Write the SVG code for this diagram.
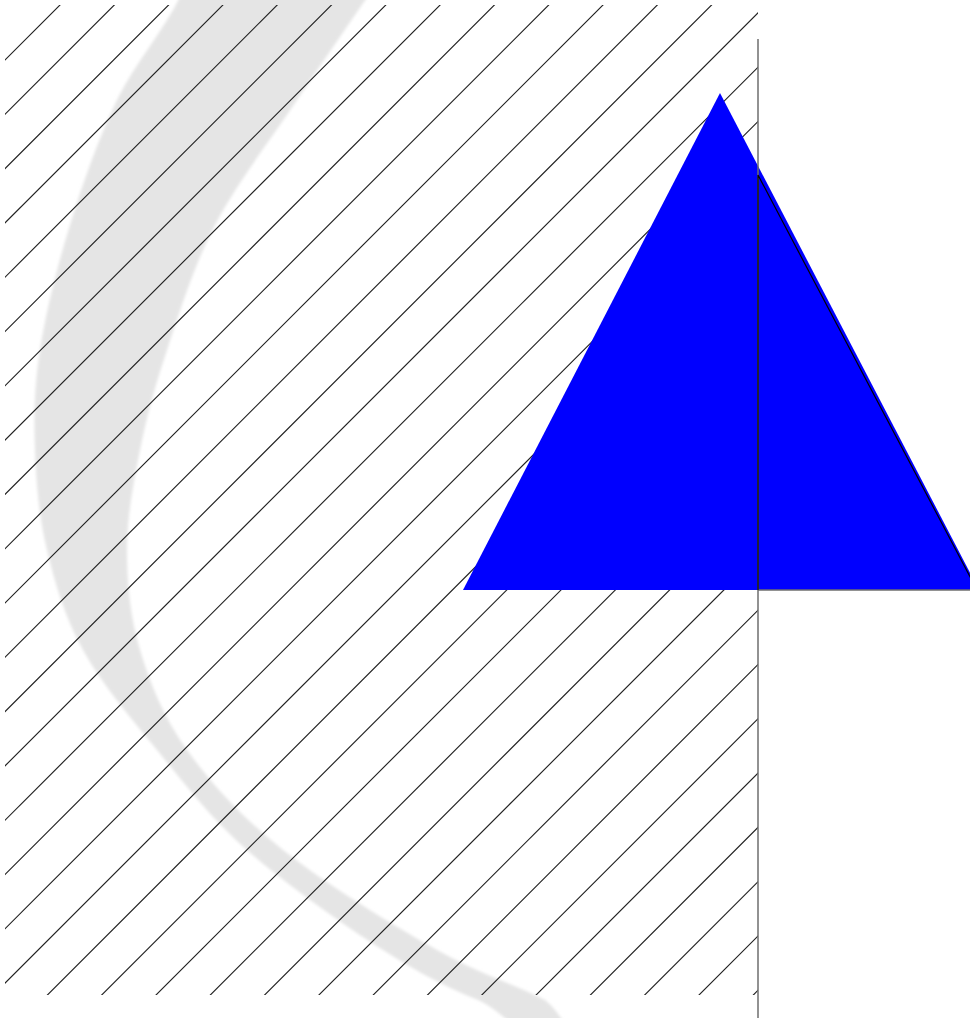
<svg xmlns="http://www.w3.org/2000/svg" width="970" height="1018" viewBox="0 0 970 1018">
  <style>
    .hatch { fill: none; stroke: #222222; stroke-width: 1.15; }
    .arc { fill: #e5e5e5; stroke: none; }
    .tri { fill: #0000ff; stroke: none; }
    .axis { fill: none; stroke: #6e6e6e; stroke-width: 1.5; }
    .edge { fill: none; stroke: #000000; stroke-width: 1.2; }
  </style>
  <defs>
    <clipPath id="hatchClip">
      <rect x="5" y="5" width="753" height="990"/>
    </clipPath>
    <filter id="soft" x="-5%" y="-5%" width="110%" height="110%">
      <feGaussianBlur stdDeviation="1.6"/>
    </filter>
  </defs>
  <rect x="0" y="0" width="970" height="1018" fill="#ffffff"/>
  <g id="crescent">
    <path class="arc" filter="url(#soft)" d="M187,-20 C173.7,20 136.5,59.2 117,100 C97.5,140.8 82.8,183.3 70,225 C57.2,266.7 45.8,312.5 40,350 C34.2,387.5 33.8,416.7 35,450 C36.2,483.3 39,516.7 47,550 C55,583.3 64.7,616.7 83,650 C101.3,683.3 129.7,716.7 157,750 C184.3,783.3 209.3,816.7 247,850 C284.7,883.3 343.7,925 383,950 C422.3,975 446.8,987 478,1000 C500,1010 515,1030 535,1040 L578,1040 C565,1028 560,1012 545,1000 C516.2,985 481.5,975 437,950 C392.5,925 324.7,883.3 283,850 C241.3,816.7 210.8,783.3 187,750 C163.2,716.7 150,683.3 140,650 C130,616.7 127,583.3 127,550 C127,516.7 133.3,483.3 140,450 C146.7,416.7 154.5,387.5 167,350 C179.5,312.5 193.3,266.7 215,225 C236.7,183.3 269.7,140.8 297,100 C324.3,59.2 351.7,20 379,-20 Z"/>
  </g>
  <g id="hatching" clip-path="url(#hatchClip)">
    <path class="hatch" d="M-935,1000 L65,0 M-880.7,1000 L119.3,0 M-826.4,1000 L173.6,0 M-772.1,1000 L227.9,0 M-717.8,1000 L282.2,0 M-663.5,1000 L336.5,0 M-609.2,1000 L390.8,0 M-554.9,1000 L445.1,0 M-500.6,1000 L499.4,0 M-446.3,1000 L553.7,0 M-392,1000 L608,0 M-337.7,1000 L662.3,0 M-283.4,1000 L716.6,0 M-229.1,1000 L770.9,0 M-174.8,1000 L825.2,0 M-120.5,1000 L879.5,0 M-66.2,1000 L933.8,0 M-11.9,1000 L988.1,0 M42.4,1000 L1042.4,0 M96.7,1000 L1096.7,0 M151,1000 L1151,0 M205.3,1000 L1205.3,0 M259.6,1000 L1259.6,0 M313.9,1000 L1313.9,0 M368.2,1000 L1368.2,0 M422.5,1000 L1422.5,0 M476.8,1000 L1476.8,0 M531.1,1000 L1531.1,0 M585.4,1000 L1585.4,0 M639.7,1000 L1639.7,0 M694,1000 L1694,0 M748.3,1000 L1748.3,0"/>
  </g>
  <g id="triangle">
    <polygon class="tri" points="720,93 463,590 979,590"/>
  </g>
  <g id="axis">
    <line class="axis" x1="758" y1="39" x2="758" y2="1018"/>
    <line class="axis" x1="758" y1="590" x2="970" y2="590"/>
  </g>
  <g id="outline">
    <polyline class="edge" points="758,590 758,175 977,590"/>
  </g>
</svg>
